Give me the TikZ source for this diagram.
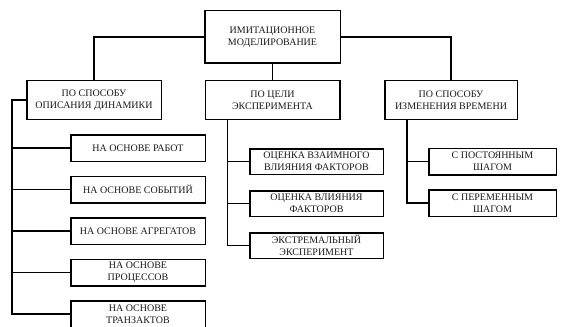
\documentclass[tikz,border=0pt]{standalone}
\usepackage{fontspec}
\setmainfont{Liberation Serif}
\usetikzlibrary{positioning}

\tikzset{
  box/.style={draw, line width=1.5pt, align=center, inner sep=1pt,
    font=\fontsize{10}{12}\selectfont, text=black!90},
  group/.style={box, minimum width=134.5pt, minimum height=38.5pt},
  leaf/.style={box, minimum width=134.5pt, minimum height=26.5pt},
}

\begin{document}
\begin{tikzpicture}[x=1pt, y=-1pt, line width=1.5pt]
    \useasboundingbox (0,0) rectangle (561,326);
    \node [box, minimum width=135.5pt, minimum height=52.5pt] (root) at (272.5,37) {ИМИТАЦИОННОЕ\\МОДЕЛИРОВАНИЕ};
    \node [group] (dyn) at (94,100) {ПО СПОСОБУ\\ОПИСАНИЯ ДИНАМИКИ};
    \node [group] (goal) at (272.5,100) {ПО ЦЕЛИ\\ЭКСПЕРИМЕНТА};
    \node [group, minimum width=132.5pt] (time) at (451,100) {ПО СПОСОБУ\\ИЗМЕНЕНИЯ ВРЕМЕНИ};
    % by dynamics
    \node [leaf] (d_1) at (138,148) {НА ОСНОВЕ РАБОТ};
    \node [leaf] [below=13.5pt of d_1] (d_2) {НА ОСНОВЕ СОБЫТИЙ};
    \node [leaf] [below=13.5pt of d_2] (d_3) {НА ОСНОВЕ АГРЕГАТОВ};
    \node [leaf] [below=13.5pt of d_3] (d_4) {НА ОСНОВЕ\\ПРОЦЕССОВ};
    \node [leaf] [below=13.5pt of d_4] (d_5) {НА ОСНОВЕ\\ТРАНЗАКТОВ};
    % by goal
    \node [leaf, minimum width=133.5pt, minimum height=25.5pt] (g_1) at (316.5,161.5) {ОЦЕНКА ВЗАИМНОГО\\ВЛИЯНИЯ ФАКТОРОВ};
    \node [leaf, minimum width=133.5pt, minimum height=25.5pt] [below=15pt of g_1] (g_2) {ОЦЕНКА ВЛИЯНИЯ\\ФАКТОРОВ};
    \node [leaf, minimum width=133.5pt, minimum height=25.5pt] [below=15pt of g_2] (g_3) {ЭКСТРЕМАЛЬНЫЙ\\ЭКСПЕРИМЕНТ};
    % by time
    \node [leaf, minimum width=127.5pt] (t_1) at (492.5,161.5) {С ПОСТОЯННЫМ\\ШАГОМ};
    \node [leaf, minimum width=127.5pt] [below=13.5pt of t_1] (t_2) {С ПЕРЕМЕННЫМ\\ШАГОМ};

    \coordinate (d_bus) at (12,0);
    \coordinate (g_bus) at ([xshift=23pt]goal.south west);
    \coordinate (t_bus) at ([xshift=23pt]time.south west);

    \draw (root.west) -| (dyn.north);
    \draw (root.east) -| (time.north);
    \draw (root) -- (goal);
    \draw (dyn.west) -| (d_5.west -| d_bus) -- (d_5.west);
    \foreach \i in {1,...,4}
      \draw (d_\i.west) -- (d_\i.west -| d_bus);
    \draw (g_bus) |- (g_3.west);
    \foreach \i in {1,2}
      \draw (g_\i.west) -- (g_\i.west -| g_bus);
    \draw (t_bus) |- (t_2.west);
    \draw (t_1.west) -- (t_1.west -| t_bus);
\end{tikzpicture}
\end{document}
